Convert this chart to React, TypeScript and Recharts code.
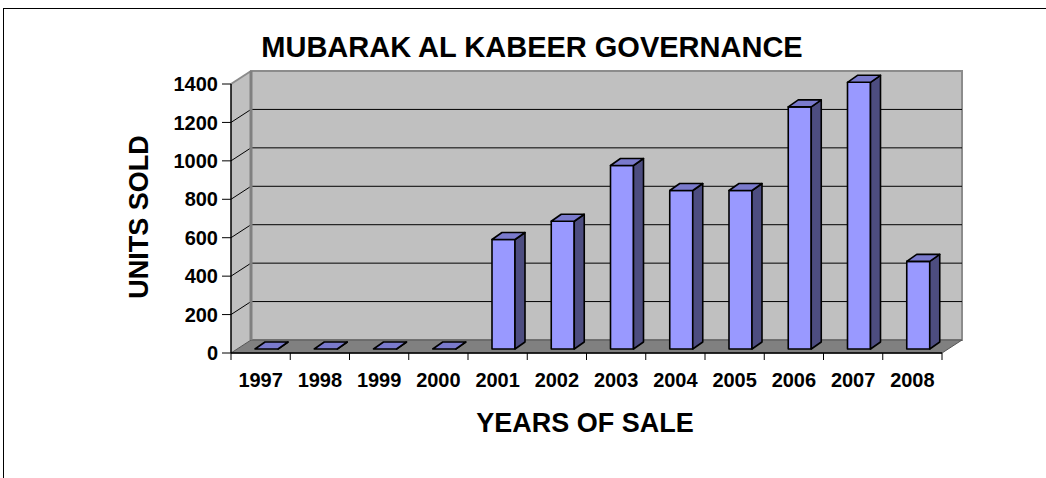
import { Bar, BarChart, ReferenceArea, XAxis, YAxis } from "recharts";

const years = ["1997", "1998", "1999", "2000", "2001", "2002", "2003", "2004", "2005", "2006", "2007", "2008"];
const unitsSold = [0, 0, 0, 0, 570, 665, 955, 825, 825, 1260, 1388, 456];
const yTicks = [0, 200, 400, 600, 800, 1000, 1200, 1400];

const data = years.map((year, i) => ({ year, units: unitsSold[i] }));

const WIDTH = 1046;
const HEIGHT = 478;
const FONT = '"Liberation Sans", Arial, Helvetica, sans-serif';

// depth of the 3d box (walls) and of the columns
const WALL_DX = 20;
const WALL_DY = -13;
const COL_SHIFT_X = 6;
const COL_SHIFT_Y = -4;
const COL_DX = 10;
const COL_DY = -7;

function Walls(props: any) {
  const { x, y, width, height } = props;
  const bottom = y + height;
  const top = yTicks[yTicks.length - 1];
  const band = width / years.length;

  return (
    <g>
      {/* side wall */}
      <polygon
        points={`${x},${bottom} ${x},${y} ${x + WALL_DX},${y + WALL_DY} ${x + WALL_DX},${bottom + WALL_DY}`}
        fill="#c0c0c0"
      />
      {/* back wall */}
      <rect
        x={x + WALL_DX}
        y={y + WALL_DY}
        width={width}
        height={height}
        fill="#c0c0c0"
        stroke="#8c8c8c"
        strokeWidth={2}
      />
      {/* floor */}
      <polygon
        points={`${x},${bottom} ${x + width},${bottom} ${x + width + WALL_DX},${bottom + WALL_DY} ${x + WALL_DX},${bottom + WALL_DY}`}
        fill="#808080"
        stroke="#555"
        strokeWidth={1}
      />
      {yTicks
        .filter((v) => v > 0 && v < top)
        .map((v) => {
          const yy = y + height * (1 - v / top);
          return (
            <polyline
              key={v}
              points={`${x},${yy} ${x + WALL_DX},${yy + WALL_DY} ${x + width + WALL_DX},${yy + WALL_DY}`}
              fill="none"
              stroke="#000"
              strokeWidth={1}
            />
          );
        })}
      {/* top edge of side wall */}
      <line x1={x} y1={y} x2={x + WALL_DX} y2={y + WALL_DY} stroke="#8c8c8c" strokeWidth={2} />
      {/* corner between side wall and back wall */}
      <line
        x1={x + WALL_DX}
        y1={y + WALL_DY}
        x2={x + WALL_DX}
        y2={bottom + WALL_DY}
        stroke="#808080"
        strokeWidth={3}
      />
      {/* category ticks on the front edge */}
      {years.map((_, i) => (
        <line key={i} x1={x + i * band} y1={bottom} x2={x + i * band} y2={bottom + 7} stroke="#000" />
      ))}
      <line x1={x + width} y1={bottom} x2={x + width} y2={bottom + 7} stroke="#000" />
    </g>
  );
}

function Column3D(props: any) {
  const { x, y, width, height } = props;
  const fx = x + COL_SHIFT_X;
  const fy = y + COL_SHIFT_Y;
  const h = Math.max(0, height);

  return (
    <g stroke="#000" strokeWidth={1.6} strokeLinejoin="round">
      <rect x={fx} y={fy} width={width} height={h} fill="#9999ff" />
      <polygon
        points={`${fx + width},${fy} ${fx + width + COL_DX},${fy + COL_DY} ${fx + width + COL_DX},${fy + h + COL_DY} ${fx + width},${fy + h}`}
        fill="#4d4d80"
      />
      <polygon
        points={`${fx},${fy} ${fx + COL_DX},${fy + COL_DY} ${fx + width + COL_DX},${fy + COL_DY} ${fx + width},${fy}`}
        fill="#7a7acc"
      />
    </g>
  );
}

export default function App() {
  return (
    <div
      style={{
        position: "fixed",
        left: 0,
        top: 0,
        width: WIDTH,
        height: HEIGHT,
        overflow: "hidden",
        background: "#fff",
      }}
    >
      <div
        style={{
          position: "absolute",
          left: 3,
          top: 8,
          width: WIDTH + 20,
          height: HEIGHT + 20,
          border: "1px solid #000",
        }}
      />
      <div style={{ position: "absolute", left: 0, top: 0 }}>
        <BarChart
          width={WIDTH}
          height={HEIGHT}
          data={data}
          margin={{ top: 84, right: 104, bottom: 95, left: 171 }}
        >
          <XAxis
            dataKey="year"
            height={30}
            axisLine={{ stroke: "#000", strokeWidth: 1.5 }}
            tickLine={{ stroke: "transparent" }}
            tickSize={6}
            tickMargin={14}
            interval={0}
            tick={{ fill: "#000", fontSize: 20, fontWeight: 700, fontFamily: FONT }}
          />
          <YAxis
            width={60}
            domain={[0, 1400]}
            ticks={yTicks}
            interval={0}
            axisLine={{ stroke: "#000", strokeWidth: 1.5 }}
            tickLine={{ stroke: "#000" }}
            tickSize={9}
            tickMargin={4}
            tick={{ fill: "#000", fontSize: 20, fontWeight: 700, fontFamily: FONT }}
          />
          <ReferenceArea y1={0} y2={1400} shape={<Walls />} ifOverflow="visible" />
          <Bar dataKey="units" barSize={23} shape={<Column3D />} isAnimationActive={false} />
        </BarChart>
      </div>
      <svg
        width={WIDTH}
        height={HEIGHT}
        style={{ position: "absolute", left: 0, top: 0, pointerEvents: "none" }}
        fontFamily={FONT}
        fontWeight={700}
      >
        <text x={532} y={57} textAnchor="middle" fontSize={29}>
          MUBARAK AL KABEER GOVERNANCE
        </text>
        <text x={148} y={217} textAnchor="middle" fontSize={27} transform="rotate(-90 148 217)">
          UNITS SOLD
        </text>
        <text x={585} y={432} textAnchor="middle" fontSize={27}>
          YEARS OF SALE
        </text>
      </svg>
    </div>
  );
}
